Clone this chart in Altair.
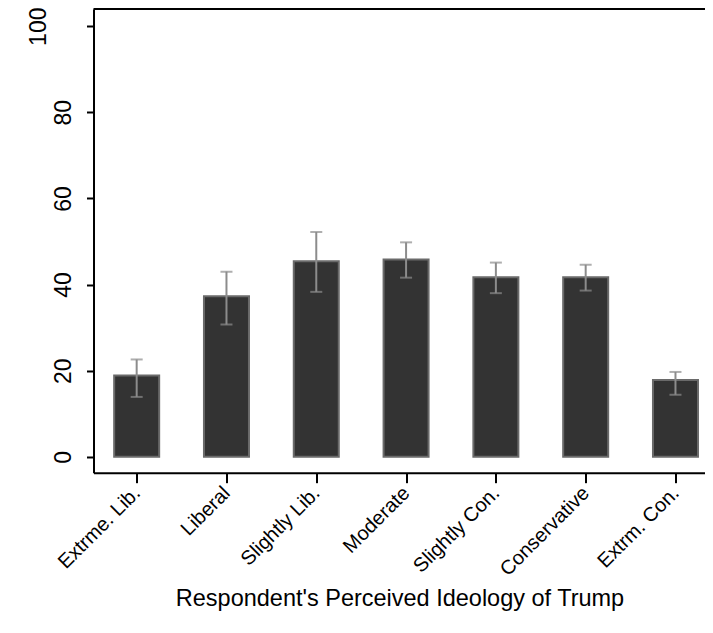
import json
import altair as alt
import pandas as pd

# ---- data ----
categories = ["Extrme. Lib.", "Liberal", "Slightly Lib.", "Moderate",
              "Slightly Con.", "Conservative", "Extrm. Con."]
means = [18.9, 37.3, 45.4, 45.8, 41.7, 41.7, 17.8]
ci_low = [13.9, 30.7, 38.3, 41.6, 38.0, 38.6, 14.4]
ci_high = [22.6, 43.0, 52.2, 49.8, 45.1, 44.6, 19.7]
y_ticks = [0, 20, 40, 60, 80, 100]
x_title = "Respondent's Perceived Ideology of Trump"

df = pd.DataFrame({
    "idx": list(range(1, len(categories) + 1)),
    "category": categories,
    "mean": means,
    "lo": ci_low,
    "hi": ci_high,
})

W = 611.5
H = 463.7
FONT = "Liberation Sans"

label_expr = json.dumps(categories) + "[datum.value - 1]"

x_enc = alt.X(
    "idx:Q",
    scale=alt.Scale(domain=[0.575, 7.273], nice=False, zero=False),
    axis=alt.Axis(
        values=list(range(1, len(categories) + 1)),
        labelExpr=label_expr,
        labelAngle=-45,
        labelAlign="right",
        labelBaseline="middle",
        labelPadding=7,
        labelFontSize=20,
        labelFont=FONT,
        labelColor="black",
        tickSize=10,
        tickWidth=2,
        tickColor="black",
        domainColor="black",
        domainWidth=2,
        grid=False,
        title=x_title,
        titleFont=FONT,
        titleFontSize=23.5,
        titleFontWeight="normal",
        titleColor="black",
        titleBaseline="alphabetic",
        titleY=133,
        titleX=306,
        labelOverlap=False,
        labelBound=False,
        labelFlush=False,
    ),
)

y_scale = alt.Scale(domain=[-3.7, 104], nice=False, zero=False)

base = alt.Chart(df)

bars = base.mark_bar(size=45, color="#333333", stroke="#6a6a6a",
                     strokeWidth=2, clip=False).encode(
    x=x_enc,
    y=alt.Y(
        "mean:Q",
        scale=y_scale,
        axis=alt.Axis(
            values=y_ticks,
            labelAngle=270,
            labelAlign="center",
            labelBaseline="middle",
            labelPadding={"condition": {"test": "datum.value == 100", "value": 48}, "value": 23},
            labelFontSize=23,
            labelFont=FONT,
            labelColor="black",
            tickSize=7,
            tickWidth=2,
            tickColor="black",
            domainColor="black",
            domainWidth=2,
            grid=False,
            title=None,
            labelOverlap=False,
            labelFlush=False,
        ),
    ),
    y2=alt.datum(0),
)

err = base.mark_rule(color="#8c8c8c", strokeWidth=2).encode(
    x="idx:Q",
    y=alt.Y("lo:Q", scale=y_scale),
    y2="hi:Q",
)

cap_lo = base.mark_tick(orient="horizontal", size=12, thickness=2,
                        color="#8c8c8c").encode(
    x="idx:Q", y=alt.Y("lo:Q", scale=y_scale))
cap_hi = base.mark_tick(orient="horizontal", size=12, thickness=2,
                        color="#8c8c8c").encode(
    x="idx:Q", y=alt.Y("hi:Q", scale=y_scale))

top_line = alt.Chart(pd.DataFrame({"a": [0]})).mark_rule(
    color="black", strokeWidth=2).encode(
    x=alt.value(0), x2=alt.value(W), y=alt.value(0))

chart = alt.layer(bars, err, cap_lo, cap_hi, top_line).properties(
    width=W,
    height=H,
    autosize=alt.AutoSizeParams(type="none"),
    padding={"left": 85.5, "top": 1, "right": 0, "bottom": 151},
    background="white",
).configure_view(stroke=None)

chart.save("out.html", embed_options={"renderer": "svg", "actions": False})
